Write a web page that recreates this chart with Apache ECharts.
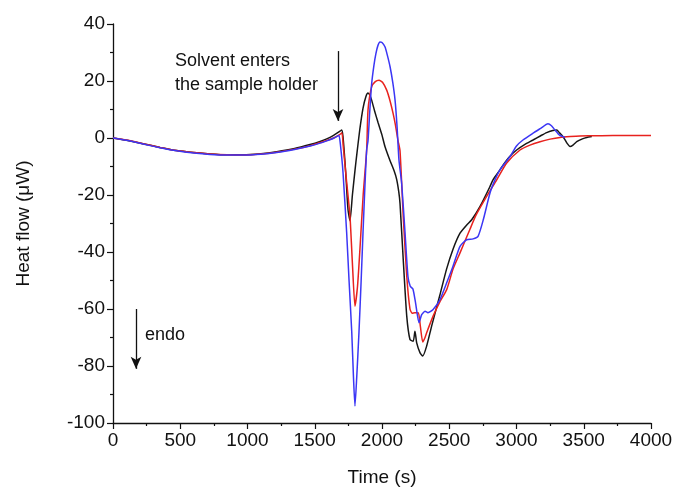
<!DOCTYPE html>
<html>
<head>
<meta charset="utf-8">
<script src="https://cdn.jsdelivr.net/npm/echarts@6/dist/echarts.min.js"></script>
<style>
  html, body { margin: 0; padding: 0; background: #fff; }
  #main { width: 676px; height: 492px; }
</style>
</head>
<body>
<div id="main"></div>
<script>
// time (s) and heat flow (uW) for the three runs
const tBlack = [0, 100, 223, 350, 473, 600, 721, 850, 967, 1100, 1217, 1350, 1465, 1540, 1589, 1640, 1688, 1700, 1710, 1730, 1747, 1762, 1780, 1800, 1812, 1835, 1859, 1880, 1896, 1910, 1923, 1945, 1970, 2000, 2022, 2060, 2090, 2109, 2125, 2134, 2158, 2184, 2208, 2232, 2245, 2258, 2283, 2303, 2332, 2369, 2431, 2480, 2528, 2580, 2630, 2667, 2729, 2803, 2825, 2877, 2900, 2950, 3001, 3060, 3123, 3180, 3224, 3270, 3299, 3320, 3346, 3375, 3398, 3420, 3448, 3490, 3522, 3560];
const hfBlack = [0, -0.8, -2, -3.3, -4.4, -5.1, -5.6, -5.9, -5.9, -5.5, -4.8, -3.7, -2.3, -1.2, -0.3, 0.9, 2.4, 2.8, 0.5, -12, -25, -29, -20, -11, -6, 3, 10.5, 14.5, 15.8, 15, 13.3, 9.5, 5.5, 1, -3, -8, -11.5, -14.5, -19, -23, -42.7, -62.5, -70.7, -71.3, -67.8, -71.9, -75.4, -76.5, -73, -66, -55, -46, -39, -33.4, -30.5, -28.7, -24, -17, -14.7, -11.2, -9.5, -6.5, -4.2, -2.3, -0.7, 0.8, 1.9, 2.6, 2.8, 1.8, 0.5, -1.8, -3, -2.5, -1.3, -0.3, 0.2, 0.5];

const tRed = [0, 100, 223, 350, 473, 600, 721, 850, 967, 1100, 1217, 1350, 1465, 1540, 1589, 1640, 1688, 1702, 1712, 1730, 1762, 1780, 1799, 1818, 1836, 1860, 1886, 1896, 1923, 1950, 1978, 2005, 2035, 2060, 2082, 2100, 2119, 2134, 2158, 2184, 2208, 2225, 2245, 2270, 2285, 2303, 2320, 2332, 2380, 2430, 2481, 2528, 2580, 2654, 2700, 2778, 2853, 2927, 3026, 3100, 3175, 3250, 3323, 3400, 3472, 3600, 3717, 3850, 4000];
const hfRed = [0, -0.7, -2, -3.3, -4.4, -5.1, -5.6, -5.9, -6, -5.6, -5, -3.9, -2.7, -1.6, -0.9, 0, 1.3, 1.8, -3, -12, -27.6, -44, -59, -52, -39, -20, -4.2, 9.8, 18, 19.8, 20.3, 19.5, 16.8, 13, 8.7, 4.5, -0.9, -4.5, -27.6, -48.5, -60, -61.5, -61.3, -61.3, -66, -71.6, -70, -68.3, -62.5, -57.5, -53.2, -46, -40.3, -32, -27, -20.5, -14.7, -8.8, -4.2, -2.5, -1.3, -0.4, 0.2, 0.5, 0.7, 0.8, 0.9, 0.9, 0.9];

const tBlue = [0, 100, 223, 350, 473, 600, 721, 850, 967, 1100, 1217, 1350, 1465, 1540, 1589, 1640, 1663, 1680, 1690, 1710, 1737, 1755, 1775, 1788, 1799, 1812, 1829, 1845, 1859, 1872, 1886, 1896, 1910, 1923, 1940, 1955, 1970, 1985, 2000, 2022, 2040, 2060, 2080, 2097, 2112, 2126, 2146, 2171, 2193, 2210, 2230, 2250, 2275, 2295, 2320, 2342, 2380, 2431, 2481, 2528, 2580, 2629, 2677, 2714, 2753, 2803, 2840, 2877, 2952, 3000, 3048, 3123, 3180, 3234, 3260, 3286, 3320, 3361];
const hfBlue = [0, -0.8, -2.1, -3.4, -4.5, -5.3, -5.8, -6, -6, -5.7, -5.1, -4, -2.8, -1.8, -1, -0.1, 0.5, 0.9, -2, -12, -33, -50, -68, -84, -94, -84, -68, -50, -33, -18, -4.2, -1, 10, 19, 25.5, 29.7, 32.5, 33.7, 33.5, 32, 29, 25, 19.5, 13.3, 4, -7.7, -15.8, -33, -48.6, -52, -53, -58, -64.8, -62, -60.8, -61.3, -60.2, -56.7, -50.8, -45, -38, -35.7, -35.4, -34.5, -28.7, -19.3, -14.7, -11.2, -6.5, -2.8, -0.7, 1.7, 3.4, 5, 4.3, 2.8, 1, 0.2];

// annotation arrows (data coords)
const solventArrow = [[1673, 30.5], [1673, 6]];
const endoArrow = [[171, -60], [171, -81]];

const font = 'Arial, "Liberation Sans", sans-serif';

function pairs(t, v) {
  return t.map((x, i) => [x, v[i]]);
}

const chart = echarts.init(document.getElementById('main'));

const arrowLine = (pts) => [{ coord: pts[0], symbol: 'none' }, { coord: pts[1], symbol: 'arrow' }];

const option = {
  backgroundColor: '#fff',
  animation: false,
  grid: { left: 113, right: 25, top: 24, bottom: 68 },
  xAxis: {
    type: 'value',
    min: 0,
    max: 4000,
    interval: 500,
    name: 'Time (s)',
    nameLocation: 'middle',
    nameGap: 45,
    nameTextStyle: { fontSize: 19, fontFamily: font, color: '#111' },
    axisLine: { onZero: false, lineStyle: { color: '#111', width: 1.3 } },
    axisTick: { inside: false, length: 6, lineStyle: { color: '#111', width: 1.2 } },
    minorTick: { show: true, splitNumber: 2, length: 3, lineStyle: { color: '#111', width: 1.2 } },
    axisLabel: { fontSize: 19, fontFamily: font, color: '#111', margin: 8, formatter: (v) => String(v) },
    splitLine: { show: false }
  },
  yAxis: {
    type: 'value',
    min: -100,
    max: 40,
    interval: 20,
    name: 'Heat flow (\u03bcW)',
    nameLocation: 'middle',
    nameGap: 80,
    nameRotate: 90,
    nameTextStyle: { fontSize: 19, fontFamily: font, color: '#111' },
    axisLine: { show: true, onZero: false, lineStyle: { color: '#111', width: 1.3 } },
    axisTick: { show: true, inside: false, length: 6, lineStyle: { color: '#111', width: 1.2 } },
    minorTick: { show: true, splitNumber: 2, length: 3, lineStyle: { color: '#111', width: 1.2 } },
    axisLabel: { fontSize: 19, fontFamily: font, color: '#111', margin: 8, formatter: (v) => String(v) },
    splitLine: { show: false }
  },
  graphic: [
    { type: 'text', left: 175, top: 52, style: { text: 'Solvent enters', font: '18px ' + font, fill: '#111' } },
    { type: 'text', left: 175, top: 76, style: { text: 'the sample holder', font: '18px ' + font, fill: '#111' } },
    { type: 'text', left: 145, top: 326, style: { text: 'endo', font: '18px ' + font, fill: '#111' } }
  ],
  series: [
    {
      name: 'run 1',
      type: 'line',
      data: pairs(tBlack, hfBlack),
      showSymbol: false,
      smooth: 0.2,
      lineStyle: { color: '#161616', width: 1.5 },
      markLine: {
        silent: true,
        symbolSize: [8, 12],
        label: { show: false },
        lineStyle: { color: '#111', width: 1.3, type: 'solid' },
        data: [arrowLine(solventArrow), arrowLine(endoArrow)]
      }
    },
    {
      name: 'run 2',
      type: 'line',
      data: pairs(tRed, hfRed),
      showSymbol: false,
      smooth: 0.2,
      lineStyle: { color: '#e8221e', width: 1.5 }
    },
    {
      name: 'run 3',
      type: 'line',
      data: pairs(tBlue, hfBlue),
      showSymbol: false,
      smooth: 0.2,
      lineStyle: { color: '#3b36f5', width: 1.5 }
    }
  ]
};

chart.setOption(option);
</script>
</body>
</html>
